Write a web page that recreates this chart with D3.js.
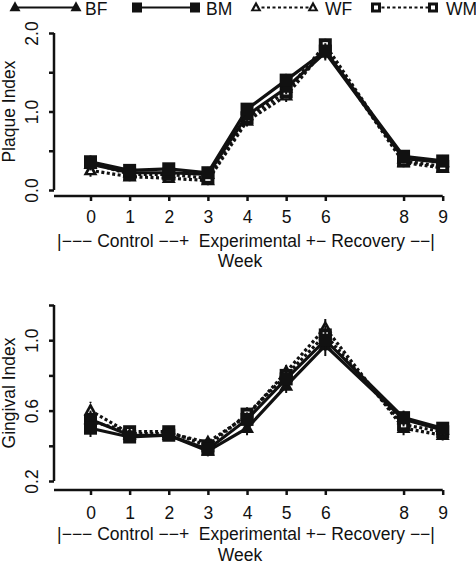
<!DOCTYPE html>
<html><head><meta charset="utf-8">
<script src="https://cdn.jsdelivr.net/npm/d3@7"></script>
<style>body{margin:0;background:#fff}svg{display:block}text{font-family:"Liberation Sans",Arial,sans-serif;fill:#111;white-space:pre}</style>
</head><body><svg id="c" width="476" height="567"></svg>
<script>
const weeks = [0,1,2,3,4,5,6,8,9];
const weekLabels = ["0","1","2","3","4","5","6","8","9"];
const seriesNames = ["BF","BM","WF","WM"];
// Plaque Index
const plaqueBF = [0.33,0.22,0.22,0.20,0.95,1.30,1.75,0.40,0.35];
const plaqueBM = [0.36,0.25,0.27,0.22,1.03,1.40,1.77,0.43,0.37];
const plaqueWF = [0.25,0.17,0.15,0.12,0.88,1.20,1.80,0.35,0.28];
const plaqueWM = [0.35,0.20,0.20,0.15,0.92,1.25,1.85,0.37,0.30];
const plaqueErr = [0.08,0.06,0.06,0.06,0.07,0.08,0.10,0.06,0.05];
const plaqueTicks = [0,0.5,1,1.5,2];
const plaqueTickLabels = ["0.0","","1.0","","2.0"];
// Gingival Index
const gingBF = [0.55,0.46,0.46,0.37,0.50,0.74,0.97,0.55,0.49];
const gingBM = [0.50,0.45,0.46,0.38,0.55,0.78,1.00,0.56,0.50];
const gingWF = [0.60,0.47,0.47,0.42,0.57,0.82,1.07,0.50,0.46];
const gingWM = [0.54,0.48,0.48,0.40,0.58,0.80,1.03,0.52,0.48];
const gingErr = [0.05,0.03,0.03,0.03,0.04,0.04,0.06,0.04,0.03];
const gingTicks = [0.2,0.4,0.6,0.8,1.0,1.2];
const gingTickLabels = ["0.2","","0.6","","1.0",""];
const phaseLabel = "|−−− Control −−+  Experimental +− Recovery −−|";
const xTitle = "Week";

const svg = d3.select("#c");
const FS = 17.5;
const styles = {
  BF:{dash:null, shape:"tri", hollow:false},
  BM:{dash:null, shape:"sq", hollow:false},
  WF:{dash:"3,2.5", shape:"tri", hollow:true},
  WM:{dash:"3,2.5", shape:"sq", hollow:true}
};
function marker(g, shape, hollow, x, y, s){
  if(shape==="sq"){
    g.append("rect").attr("x",x-s/2).attr("y",y-s/2).attr("width",s).attr("height",s)
     .attr("fill","#111");
    if(hollow) g.append("rect").attr("x",x-s/5).attr("y",y-s/5).attr("width",s*0.4).attr("height",s*0.4).attr("fill","#fff");
  } else {
    const h=s*0.9;
    g.append("path").attr("d",`M${x},${y-h*0.62}L${x+s/2},${y+h*0.38}L${x-s/2},${y+h*0.38}Z`).attr("fill","#111");
    if(hollow) g.append("path").attr("d",`M${x},${y-h*0.18}L${x+s/5.5},${y+h*0.2}L${x-s/5.5},${y+h*0.2}Z`).attr("fill","#fff");
  }
}

// legend
const legX = [[15,76,85],[137,195,206],[256,313,325],[376,433,446]];
const legY = 7.5;
seriesNames.forEach((n,i)=>{
  const st=styles[n], g=svg.append("g");
  g.append("line").attr("x1",legX[i][0]).attr("x2",legX[i][1]).attr("y1",legY).attr("y2",legY)
   .attr("stroke","#111").attr("stroke-width",2.2).attr("stroke-dasharray",st.dash);
  marker(g,st.shape,st.hollow,legX[i][0],legY,st.shape==="sq"?10:11);
  marker(g,st.shape,st.hollow,legX[i][1],legY,st.shape==="sq"?10:11);
  g.append("text").attr("x",legX[i][2]).attr("y",legY+7).attr("font-size",FS).text(n);
});

function panel(cfg){
  const x = d3.scaleLinear().domain([0,9]).range([90.5,442.7]);
  const y = d3.scaleLinear().domain(cfg.domain).range(cfg.yRange);
  const g = svg.append("g");
  // y axis
  const ya = g.append("g").attr("transform",`translate(54,0)`)
    .call(d3.axisLeft(y).tickValues(cfg.ticks).tickSize(5).tickFormat((d,i)=>cfg.tickLabels[i]));
  ya.select(".domain").attr("stroke","#111").attr("stroke-width",2.5).attr("d",`M0,${cfg.yRange[0]}V${cfg.yRange[1]}`);
  ya.selectAll(".tick line").attr("stroke","#111").attr("stroke-width",2.5);
  ya.selectAll(".tick text").attr("font-size",FS).attr("font-family","Liberation Sans, Arial, sans-serif")
    .attr("fill","#111").attr("text-anchor","middle").attr("dy",0)
    .attr("transform","rotate(-90)").attr("x",0).attr("y",-16);
  g.append("text").attr("transform",`translate(15,${(cfg.yRange[0]+cfg.yRange[1])/2}) rotate(-90)`)
   .attr("text-anchor","middle").attr("font-size",FS).text(cfg.title);
  // x axis
  const xa = g.append("g").attr("transform",`translate(0,${cfg.xAxisY})`)
    .call(d3.axisBottom(x).tickValues(weeks).tickSize(5).tickFormat((d,i)=>weekLabels[i]));
  xa.select(".domain").attr("stroke","#111").attr("stroke-width",2.5).attr("d",`M54,0H${x(9)}`);
  xa.selectAll(".tick line").attr("stroke","#111").attr("stroke-width",2.5);
  xa.selectAll(".tick text").attr("font-size",FS).attr("font-family","Liberation Sans, Arial, sans-serif")
    .attr("fill","#111").attr("y",cfg.numY).attr("dy","0.71em");
  g.append("text").attr("x",246).attr("y",cfg.xAxisY+cfg.subY).attr("text-anchor","middle").attr("font-size",FS)
   .attr("xml:space","preserve").text(phaseLabel);
  g.append("text").attr("x",240).attr("y",cfg.xAxisY+cfg.weekY).attr("text-anchor","middle").attr("font-size",FS).text(xTitle);
  // series
  const line = d3.line().x((d,i)=>x(weeks[i])).y(d=>y(d));
  const order = ["WF","WM","BF","BM"];
  order.forEach(n=>{
    const vals = cfg.data[n], st=styles[n];
    const sg = g.append("g");
    vals.forEach((v,i)=>{
      sg.append("line").attr("x1",x(weeks[i])).attr("x2",x(weeks[i]))
        .attr("y1",y(v-cfg.err[i])).attr("y2",y(v+cfg.err[i]))
        .attr("stroke","#111").attr("stroke-width",2).attr("stroke-dasharray",st.dash);
    });
    sg.append("path").attr("d",line(vals)).attr("fill","none").attr("stroke","#111")
      .attr("stroke-width",3.2).attr("stroke-dasharray",st.dash);
    vals.forEach((v,i)=>marker(sg,st.shape,st.hollow,x(weeks[i]),y(v),st.shape==="sq"?13:14));
  });
}
panel({domain:[0,2], yRange:[190,33], ticks:plaqueTicks, tickLabels:plaqueTickLabels, title:"Plaque Index",
  xAxisY:196, numY:15, subY:51, weekY:71, err:plaqueErr, data:{BF:plaqueBF,BM:plaqueBM,WF:plaqueWF,WM:plaqueWM}});
panel({domain:[0.2,1.2], yRange:[481,305], ticks:gingTicks, tickLabels:gingTickLabels, title:"Gingival Index",
  xAxisY:490, numY:17, subY:50, weekY:71, err:gingErr, data:{BF:gingBF,BM:gingBM,WF:gingWF,WM:gingWM}});
</script></body></html>
